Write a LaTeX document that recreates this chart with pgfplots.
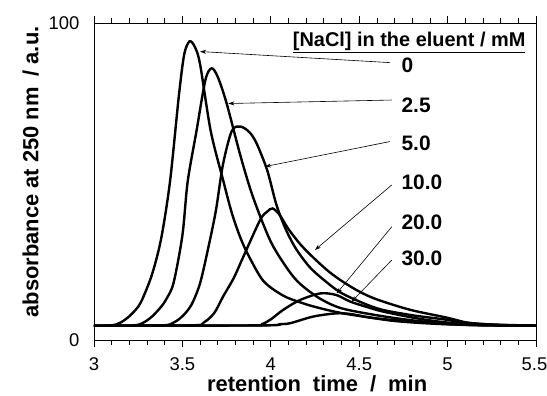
\documentclass[border=0pt]{standalone}
\usepackage{pgfplots}
\pgfplotsset{compat=1.18}
\usetikzlibrary{arrows.meta}
\usepackage{fontspec}
\setmainfont{Liberation Sans}
\begin{document}
\begin{tikzpicture}
\path[use as bounding box] (-94bp,-56bp) rectangle (453bp,340bp);
\begin{axis}[
  scale only axis, width=442bp, height=317bp,
  xmin=3, xmax=5.5, ymin=0, ymax=100,
  xtick={3,3.5,4,4.5,5,5.5},
  xticklabels={3,3.5,4,4.5,5,\hspace{-3bp}5.5\hspace{3bp}},
  minor x tick num=4,
  ytick={0,100}, yticklabels={0,{100\hspace{12bp}}},
  ytick style={draw=none},
  xtick pos=both, ytick pos=left,
  tick align=outside,
  major tick length=7bp, minor tick length=5bp,
  every tick/.style={black, line width=0.7bp},
  axis line style={line width=0.8bp},
  /pgf/number format/assume math mode=true,
  tick label style={font=\fontsize{18.5}{21}\selectfont},
  xticklabel style={yshift=-7bp},
  yticklabel style={xshift=-4bp},
  xlabel={\textbf{retention\hspace{0.55em}time\hspace{0.55em}/\hspace{0.55em}min}},
  ylabel={\textbf{absorbance at 250 nm\hspace{0.5em}/ a.u.}},
  every axis x label/.style={at={(axis description cs:0.505,-0.138)}, anchor=center, font=\fontsize{22}{24}\selectfont},
  every axis y label/.style={at={(axis description cs:-0.143,0.53)}, anchor=center, rotate=90, font=\fontsize{22}{24}\selectfont},
  clip=false,
]
% 0 mM
\addplot[black, line width=2.4bp, smooth, tension=0.5] coordinates {
(3.00,4.5)(3.10,4.6)(3.15,5.5)(3.20,7.5)(3.25,10.5)(3.28,13.7)(3.33,21)(3.38,32)(3.43,50)(3.48,77)(3.51,90)(3.54,94.2)(3.57,92.5)(3.60,87)(3.66,66)(3.73,50.5)(3.78,40)(3.83,32)(3.88,26)(3.96,18.5)(4.07,14)(4.17,11.8)(4.26,10.3)(4.40,8.5)(4.60,6.8)(4.80,5.8)(5.00,5.0)(5.20,4.6)(5.50,4.5)};
% 2.5 mM
\addplot[black, line width=2.4bp, smooth, tension=0.5] coordinates {
(3.00,4.5)(3.22,4.6)(3.28,5.5)(3.33,7.5)(3.38,10.5)(3.41,13)(3.45,18)(3.50,33)(3.53,50)(3.58,66)(3.63,82)(3.665,85.7)(3.70,83)(3.75,74.7)(3.83,57.8)(3.90,45)(4.00,31)(4.10,22)(4.17,17.5)(4.28,13)(4.40,10)(4.60,7.8)(4.80,6.2)(5.00,5.2)(5.20,4.7)(5.50,4.5)};
% 5.0 mM
\addplot[black, line width=2.4bp, smooth, tension=0.5] coordinates {
(3.00,4.5)(3.38,4.6)(3.45,5.5)(3.50,7.5)(3.55,11)(3.60,17.9)(3.65,30)(3.69,41)(3.73,55.5)(3.78,66)(3.83,67.3)(3.88,65.5)(3.92,62)(3.98,53.5)(4.03,43)(4.08,35.5)(4.14,29)(4.22,23)(4.31,18.5)(4.41,14.5)(4.60,10)(4.79,7.9)(4.98,6.5)(5.10,5.5)(5.30,4.7)(5.50,4.5)};
% 10.0 mM
\addplot[black, line width=2.4bp, smooth, tension=0.5] coordinates {
(3.00,4.5)(3.55,4.6)(3.62,5.5)(3.68,8.5)(3.73,13.7)(3.79,19.5)(3.845,26.3)(3.94,37.9)(3.98,40.5)(4.01,41.5)(4.05,39.5)(4.10,35)(4.17,30)(4.25,25.5)(4.33,21.5)(4.41,18.3)(4.50,15.3)(4.60,12.8)(4.79,9.5)(5.00,7.0)(5.10,5.6)(5.20,5.0)(5.50,4.5)};
% 20.0 mM
\addplot[black, line width=2.4bp, smooth, tension=0.5] coordinates {
(3.00,4.5)(3.90,4.6)(3.95,5.0)(4.00,6.5)(4.07,9.5)(4.165,12.6)(4.28,14.7)(4.37,14.2)(4.45,12.1)(4.55,10.3)(4.64,8.9)(4.83,6.8)(5.00,5.5)(5.20,4.8)(5.50,4.5)};
% 30.0 mM
\addplot[black, line width=2.4bp, smooth, tension=0.5] coordinates {
(3.00,4.5)(3.95,4.6)(4.05,5.0)(4.11,5.3)(4.24,7.4)(4.37,8.4)(4.45,8.2)(4.55,7.2)(4.70,6.0)(4.90,5.2)(5.10,4.8)(5.50,4.5)};
% y ticks crossing the axis
\draw[line width=0.7bp] (axis cs:3,0) ++(-11bp,0) -- ++(22bp,0);
\draw[line width=0.7bp] (axis cs:3,100) ++(-11bp,0) -- ++(22bp,0);
% legend text
\node[anchor=east, font=\fontsize{20}{23}\selectfont\bfseries] at (axis cs:5.46,94) {\underline{[NaCl] in the eluent / mM}};
\begin{scope}[every node/.style={anchor=west, font=\fontsize{21}{23}\selectfont\bfseries}]
\node at (axis cs:4.72,86.8) {0};
\node at (axis cs:4.72,74.1) {2.5};
\node at (axis cs:4.72,62.1) {5.0};
\node at (axis cs:4.72,49.8) {10.0};
\node at (axis cs:4.72,37.2) {20.0};
\node at (axis cs:4.72,25.9) {30.0};
\end{scope}
\begin{scope}[line width=0.6bp, -{Stealth[length=6bp,width=4bp]}]
\draw (axis cs:4.674,87.5) -- (axis cs:3.60,91);
\draw (axis cs:4.684,75.7) -- (axis cs:3.76,74.6);
\draw (axis cs:4.674,62.6) -- (axis cs:3.967,54.7);
\draw (axis cs:4.684,48.9) -- (axis cs:4.25,28.4);
\draw (axis cs:4.684,35.7) -- (axis cs:4.373,14.7);
\draw (axis cs:4.684,25.2) -- (axis cs:4.457,12.1);
\end{scope}
\end{axis}
\end{tikzpicture}
\end{document}
